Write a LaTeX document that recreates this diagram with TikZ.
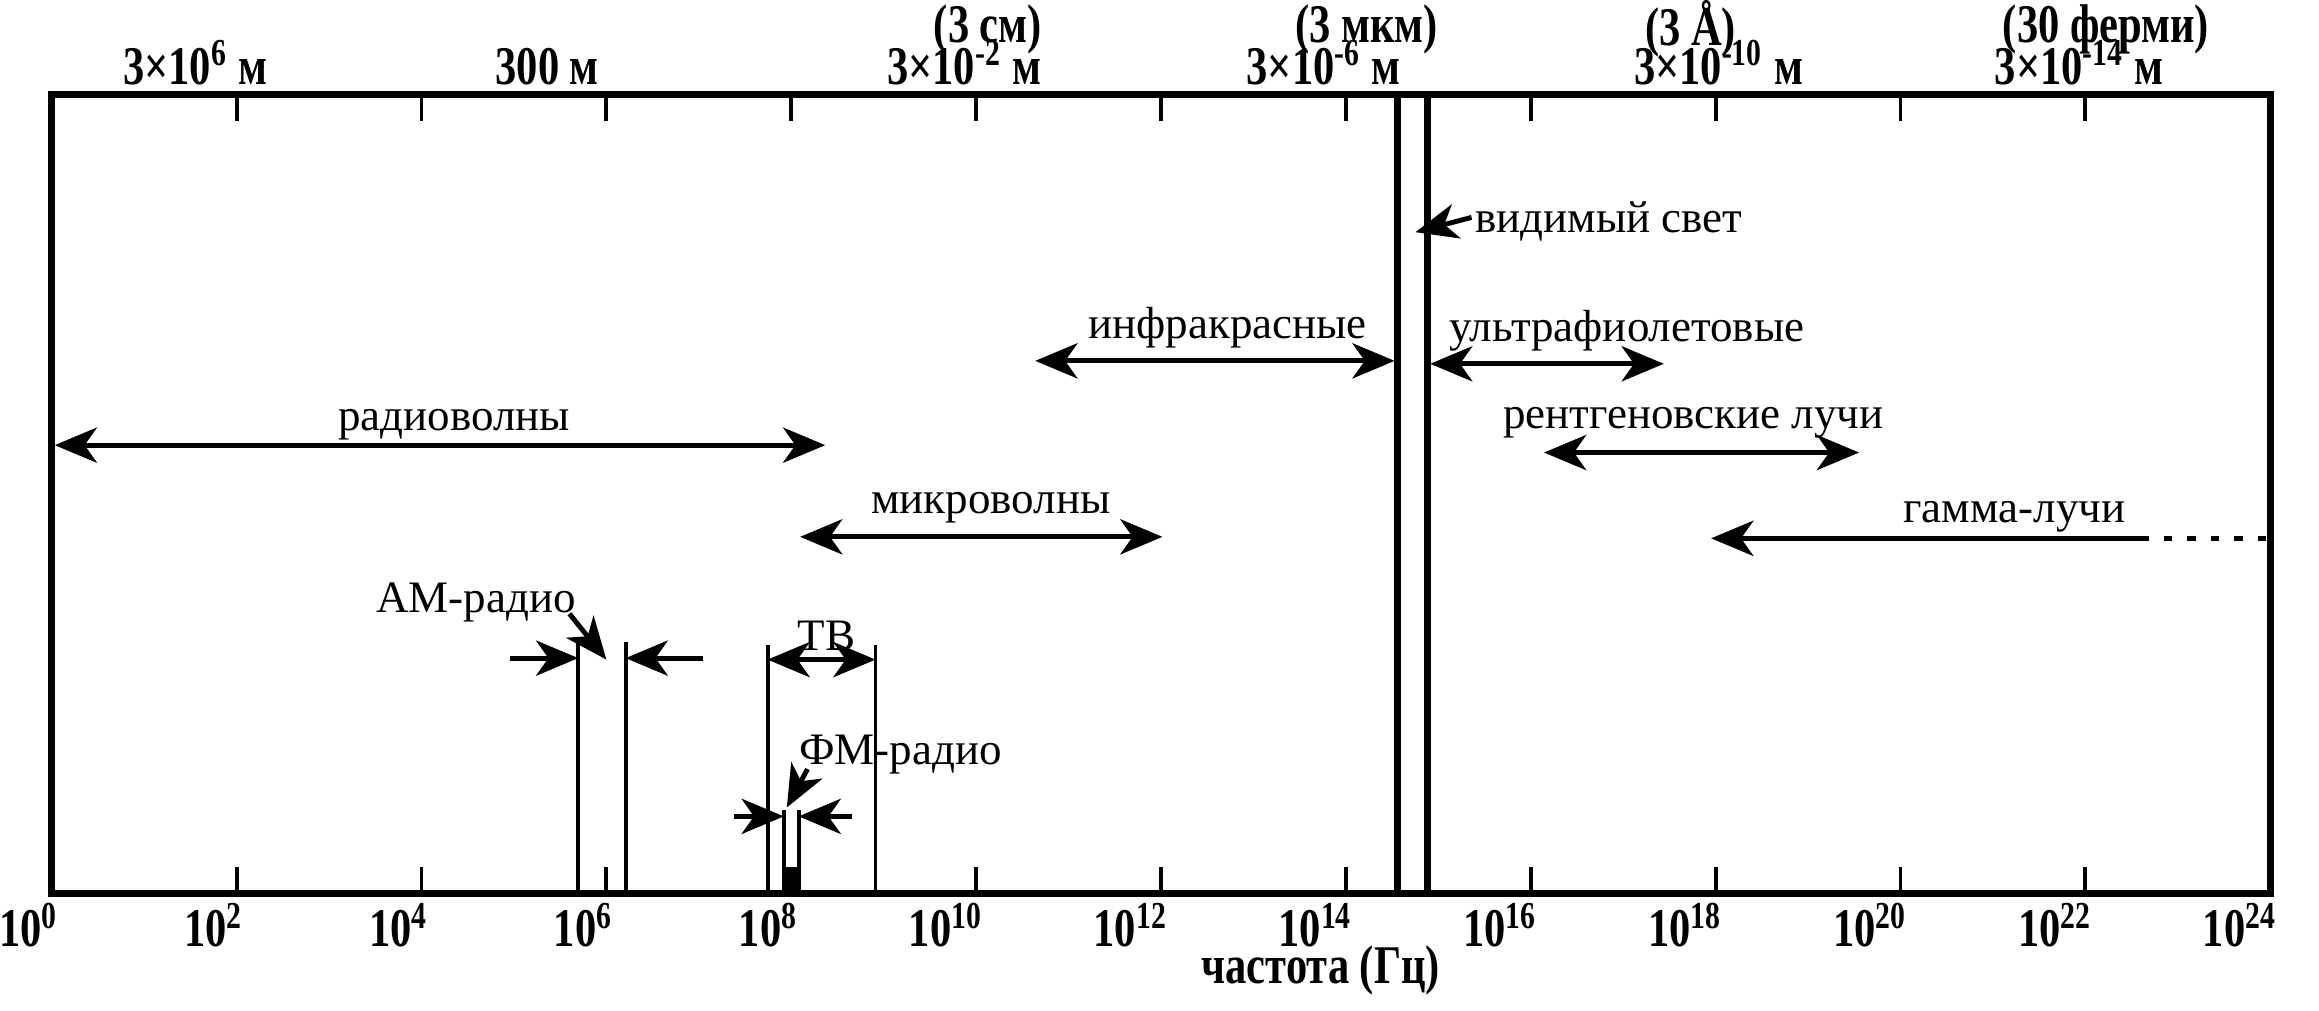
\documentclass[tikz,border=0pt]{standalone}
\usepackage{fontspec}
\setmainfont{Liberation Serif}
\newfontfamily\narrowfont[FakeStretch=0.78]{Liberation Serif}
\usepackage{tikz}
\usetikzlibrary{arrows.meta,positioning}

\begin{document}
\begin{tikzpicture}[x=0.01479cm,y=-0.01479cm,
    frame/.style={line width=2.1pt},
    band/.style={line width=1.1pt},
    rng/.style={line width=1.4pt,{Stealth[length=12pt,width=10pt,inset=3.5pt]}-{Stealth[length=12pt,width=10pt,inset=3.5pt]}},
    ptr/.style={line width=1.4pt,-{Stealth[length=12pt,width=10pt,inset=3.5pt]}},
    lab/.style={font=\fontsize{12.8}{14}\selectfont,inner sep=0pt,anchor=base},
    scal/.style={font=\narrowfont\bfseries\fontsize{15.5}{17}\selectfont,inner sep=0pt,anchor=base}]
  \useasboundingbox (0,0) rectangle (1568,683);
  \draw[frame] (35,64) rectangle (1535,604);
  \foreach \dec in {2,4,...,22} {
    \draw[band] ({35+62.5*\dec},64) -- ++(0,18);
    \draw[band] ({35+62.5*\dec},604) -- ++(0,-18);
  }
  \draw[line width=3.4pt] (535,604) -- (535,586);
  \foreach \dec in {0,2,...,24}
    \node[scal,anchor=base east] (f\dec) at ({40+62.5*\dec},640) {10\textsuperscript{\dec}};
  \node[scal] (freq) at (893,665) {частота (Гц)};

  \node[scal] (w2) at (132,57) {3×10\textsuperscript{6} м};
  \node[scal] (w6) at (370,57) {300 м};
  \node[scal] (w10) at (652,57) {3×10\textsuperscript{-2} м};
  \node[scal] (w14) at (895,57) {3×10\textsuperscript{-6} м};
  \node[scal] (w18) at (1162,57) {3×10\textsuperscript{-10} м};
  \node[scal] (w22) at (1406,57) {3×10\textsuperscript{-14} м};
  \node[scal] (p10) at (668,29) {(3 см)};
  \node[scal] (p14) at (924,29) {(3 мкм)};
  \node[scal] (p18) at (1143,31) {(3 Å)};
  \node[scal] (p22) at (1424,29) {(30 ферми)};

  \draw[frame] (945,64) -- (945,604);
  \draw[frame] (965,64) -- (965,604);

  \coordinate (radioA) at (37,301);
  \coordinate (radioB) at (558,301);
  \draw[rng] (radioA) -- (radioB);
  \node[lab] (radio) at (307,291) {радиоволны};

  \coordinate (microA) at (541,363);
  \coordinate (microB) at (786,363);
  \draw[rng] (microA) -- (microB);
  \node[lab] (micro) at (670,347) {микроволны};

  \coordinate (irA) at (700,244);
  \coordinate (irB) at (943,244);
  \draw[rng] (irA) -- (irB);
  \node[lab] (ir) at (830,229) {инфракрасные};

  \coordinate (uvA) at (967,246);
  \coordinate (uvB) at (1125,246);
  \draw[rng] (uvA) -- (uvB);
  \node[lab] (uv) at (1100,231) {ультрафиолетовые};

  \coordinate (xrayA) at (1044,306);
  \coordinate (xrayB) at (1257,306);
  \draw[rng] (xrayA) -- (xrayB);
  \node[lab] (xray) at (1145,290) {рентгеновские лучи};

  \coordinate (gammaA) at (1447,364);
  \coordinate (gammaB) at (1157,364);
  \coordinate (gammaC) at (1535,364);
  \draw[ptr] (gammaA) -- (gammaB);
  \draw[line width=1.4pt,dash pattern=on 2.4pt off 4.3pt] (gammaA) -- (gammaC);
  \node[lab] (gamma) at (1362,353) {гамма-лучи};

  \node[lab,anchor=base west] (vis) at (997,157) {видимый свет};
  \coordinate (visA) at (995,147);
  \coordinate (visB) at (957,157);
  \draw[ptr] (visA) -- (visB);

  \draw[band] (391,434) -- (391,604);
  \draw[band] (423,434) -- (423,604);
  \node[lab] (am) at (322,414) {АМ-радио};
  \coordinate (amA) at (385,415);
  \coordinate (amB) at (410,446);
  \coordinate (amL) at (345,445);
  \coordinate (amR) at (475,445);
  \draw[ptr] (amA) -- (amB);
  \draw[ptr] (amL) -- (391,445);
  \draw[ptr] (amR) -- (423,445);

  \draw[band] (519,436) -- (519,604);
  \draw[band] (592,436) -- (592,604);
  \coordinate (tvA) at (519,446);
  \coordinate (tvB) at (592,446);
  \draw[rng] (tvA) -- (tvB);
  \node[lab] (tv) at (559,440) {ТВ};

  \draw[band] (530,548) -- (530,604);
  \draw[band] (540,548) -- (540,604);
  \node[lab] (fm) at (609,517) {ФМ-радио};
  \coordinate (fmA) at (546,520);
  \coordinate (fmB) at (532,546);
  \coordinate (fmL) at (496,552);
  \coordinate (fmR) at (576,552);
  \draw[ptr] (fmA) -- (fmB);
  \draw[ptr] (fmL) -- (530,552);
  \draw[ptr] (fmR) -- (540,552);
\end{tikzpicture}
\end{document}
